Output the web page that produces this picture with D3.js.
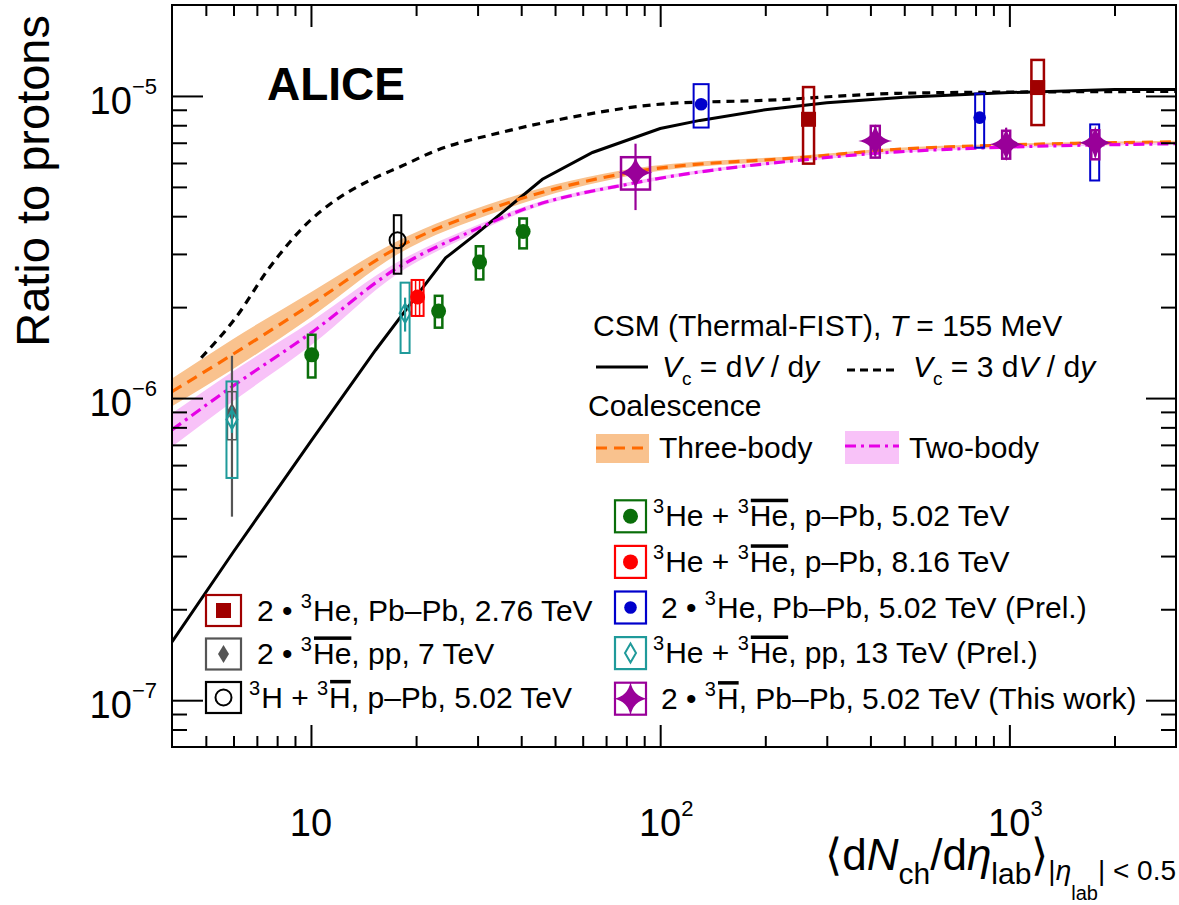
<!DOCTYPE html>
<html>
<head>
<meta charset="utf-8">
<script src="https://cdn.jsdelivr.net/npm/d3@7"></script>
<style>
  body { margin: 0; background: #fff; }
  text { font-family: "Liberation Sans", Arial, Helvetica, sans-serif; fill: #000; white-space: pre; }
</style>
</head>
<body>
<svg id="chart" width="1179" height="905"></svg>
<script>
// ---------- data ----------
var xMajorTicks = [10, 100, 1000];
var xMajorLabels = ["10", "10^2", "10^3"];
var yMajorTicks = [1e-7, 1e-6, 1e-5];
var yMajorLabels = ["10^−7", "10^−6", "10^−5"];

// CSM (Thermal-FIST), Vc = dV/dy
var csmX = [4, 6, 10, 15.3, 20, 24.3, 30, 46, 64, 100, 130, 200, 300, 500, 1000, 2000, 3000];
var csmY = [1.56e-7, 3.1e-7, 7.2e-7, 1.44e-6, 2.17e-6, 2.91e-6, 3.52e-6, 5.3e-6, 6.5e-6, 7.8e-6, 8.3e-6, 9.0e-6, 9.5e-6, 9.9e-6, 1.026e-5, 1.05e-5, 1.05e-5];
// CSM, Vc = 3 dV/dy
var csm3X = [4.85, 6.1, 7.6, 9.9, 11.7, 14.6, 18.2, 22.7, 35, 55, 106, 200, 480, 1000, 3000];
var csm3Y = [1.36e-6, 1.85e-6, 2.7e-6, 3.85e-6, 4.5e-6, 5.23e-6, 5.86e-6, 6.58e-6, 7.57e-6, 8.48e-6, 9.44e-6, 9.67e-6, 1.02e-5, 1.03e-5, 1.035e-5];

// Coalescence, three-body
var threeX = [4, 5.94, 10.05, 17.7, 35, 85, 266, 480, 940, 3000];
var threeY = [1.05e-6, 1.39e-6, 2.05e-6, 3.15e-6, 4.35e-6, 5.62e-6, 6.28e-6, 6.66e-6, 6.87e-6, 7.05e-6];
var threeLo = [9.4e-7, 1.24e-6, 1.86e-6, 2.99e-6, 4.18e-6, 5.49e-6, 6.19e-6, 6.59e-6, 6.81e-6, 6.99e-6];
var threeHi = [1.16e-6, 1.56e-6, 2.25e-6, 3.31e-6, 4.52e-6, 5.76e-6, 6.37e-6, 6.74e-6, 6.94e-6, 7.11e-6];
// Coalescence, two-body
var twoX = [4, 5.94, 10.05, 17.7, 29.5, 40.5, 85, 266, 480, 3000];
var twoY = [7.85e-7, 1.09e-6, 1.65e-6, 2.7e-6, 3.61e-6, 4.21e-6, 5.16e-6, 6.17e-6, 6.53e-6, 6.95e-6];
var twoLo = [6.9e-7, 9.7e-7, 1.5e-6, 2.58e-6, 3.51e-6, 4.13e-6, 5.09e-6, 6.11e-6, 6.48e-6, 6.91e-6];
var twoHi = [8.9e-7, 1.22e-6, 1.8e-6, 2.82e-6, 3.71e-6, 4.29e-6, 5.24e-6, 6.24e-6, 6.59e-6, 6.99e-6];

// 2 x 3He, Pb-Pb 2.76 TeV
var pbpb276X = [266, 1205];
var pbpb276Y = [8.37e-6, 1.066e-5];
var pbpb276SysLo = [5.97e-6, 8.01e-6];
var pbpb276SysHi = [1.07e-5, 1.316e-5];
// 2 x anti-3He, pp 7 TeV
var pp7X = [5.94];
var pp7Y = [9.0e-7];
var pp7StatLo = [4.05e-7];
var pp7StatHi = [1.38e-6];
var pp7SysLo = [7.28e-7];
var pp7SysHi = [1.05e-6];
// 3H + anti-3H, p-Pb 5.02 TeV
var h3X = [17.7];
var h3Y = [3.33e-6];
var h3SysLo = [2.58e-6];
var h3SysHi = [4.03e-6];
// 3He + anti-3He, p-Pb 5.02 TeV
var ppb502X = [10.05, 23.2, 30.4, 40.5];
var ppb502Y = [1.39e-6, 1.94e-6, 2.82e-6, 3.56e-6];
var ppb502SysLo = [1.17e-6, 1.71e-6, 2.47e-6, 3.13e-6];
var ppb502SysHi = [1.62e-6, 2.18e-6, 3.18e-6, 3.93e-6];
// 3He + anti-3He, p-Pb 8.16 TeV
var ppb816X = [20.2];
var ppb816Y = [2.16e-6];
var ppb816SysLo = [1.87e-6];
var ppb816SysHi = [2.46e-6];
// 2 x 3He, Pb-Pb 5.02 TeV (Prel.)
var pbpb502X = [131, 822, 1755];
var pbpb502Y = [9.39e-6, 8.48e-6, 6.9e-6];
var pbpb502SysLo = [7.86e-6, 6.74e-6, 5.25e-6];
var pbpb502SysHi = [1.094e-5, 1.018e-5, 8.05e-6];
// 3He + anti-3He, pp 13 TeV (Prel.)
var pp13X = [5.94, 18.6];
var pp13Y = [8.5e-7, 1.91e-6];
var pp13StatLo = [7.67e-7, 1.66e-6];
var pp13StatHi = [9.37e-7, 2.15e-6];
var pp13SysLo = [5.44e-7, 1.41e-6];
var pp13SysHi = [1.135e-6, 2.41e-6];
// 2 x anti-3H, Pb-Pb 5.02 TeV (this work)
var h3barX = [85, 413, 979, 1762];
var h3barY = [5.57e-6, 7.1e-6, 6.92e-6, 7.0e-6];
var h3barStatLo = [4.19e-6, 6.3e-6, 6.18e-6, 6.3e-6];
var h3barStatHi = [6.95e-6, 7.9e-6, 7.85e-6, 7.75e-6];
var h3barSysLo = [4.9e-6, 6.25e-6, 6.2e-6, 6.17e-6];
var h3barSysHi = [6.27e-6, 7.96e-6, 7.67e-6, 7.7e-6];

// ---------- setup ----------
var L = 172, R = 1176, T = 5, B = 747;
var svg = d3.select("#chart");
var x = d3.scaleLog().domain([4, 3000]).range([L, R]);
var y = d3.scaleLog().domain([7e-8, 2e-5]).range([B, T]);

var FONT = 30;

// rich text: segments laid out one after another
function rich(g, x0, y0, segs, base, anchor) {
	var grp = g.append("g");
	var cx = 0;
	segs.forEach(function(s) {
		var size = s.size || base;
		var t = grp.append("text")
			.attr("x", cx)
			.attr("y", s.dy || 0)
			.attr("xml:space", "preserve")
			.style("font-size", size + "px")
			.style("font-style", s.it ? "italic" : "normal")
			.text(s.t);
		var w = t.node().getComputedTextLength();
		if (s.bar) {
			grp.append("rect")
				.attr("x", cx + 1).attr("width", w - 1)
				.attr("y", (s.dy || 0) - size * 0.72 - 6).attr("height", 3.5)
				.style("fill", "#000");
		}
		cx += w + (s.gap || 0);
	});
	var sx = x0;
	if (anchor == "end") sx = x0 - cx;
	if (anchor == "middle") sx = x0 - cx / 2;
	grp.attr("transform", "translate(" + sx + "," + y0 + ")");
	return grp;
}

function powLabel(str, size) {
	var p = str.split("^");
	var segs = [{t: p[0]}];
	if (p[1]) segs.push({t: p[1], size: size * 0.58, dy: -size * 0.53});
	return segs;
}

// ---------- clip ----------
svg.append("clipPath").attr("id", "clip")
	.append("rect").attr("x", L).attr("y", T).attr("width", R - L).attr("height", B - T);
var plot = svg.append("g").attr("clip-path", "url(#clip)");

function pts(xs, ys) { return xs.map(function(v, i) { return [v, ys[i]]; }); }

var lineLin = d3.line().x(function(d) { return x(d[0]); }).y(function(d) { return y(d[1]); });
var lineSmooth = d3.line().x(function(d) { return x(d[0]); }).y(function(d) { return y(d[1]); }).curve(d3.curveMonotoneX);
var band = d3.area().x(function(d) { return x(d[0]); }).y0(function(d) { return y(d[1]); }).y1(function(d) { return y(d[2]); }).curve(d3.curveMonotoneX);

var ORANGE = "#ff6a00", ORANGE_BAND = "#f9c28e";
var MAGENTA = "#e600e6", MAGENTA_BAND = "#f8c2f8";

plot.append("path")
	.datum(threeX.map(function(v, i) { return [v, threeLo[i], threeHi[i]]; }))
	.attr("d", band).style("fill", ORANGE_BAND);
plot.append("path")
	.datum(twoX.map(function(v, i) { return [v, twoLo[i], twoHi[i]]; }))
	.attr("d", band).style("fill", MAGENTA_BAND);

plot.append("path").datum(pts(csmX, csmY)).attr("d", lineLin)
	.style("fill", "none").style("stroke", "#000").style("stroke-width", 3);
plot.append("path").datum(pts(csm3X, csm3Y)).attr("d", lineSmooth)
	.style("fill", "none").style("stroke", "#000").style("stroke-width", 3.2).style("stroke-dasharray", "8,6");
plot.append("path").datum(pts(threeX, threeY)).attr("d", lineSmooth)
	.style("fill", "none").style("stroke", ORANGE).style("stroke-width", 3.2).style("stroke-dasharray", "11,7");
plot.append("path").datum(pts(twoX, twoY)).attr("d", lineSmooth)
	.style("fill", "none").style("stroke", MAGENTA).style("stroke-width", 3.2).style("stroke-dasharray", "11,5,3,5");

// ---------- markers ----------
function starPath(r, k) {
	return "M0," + (-r) + " Q" + k + "," + (-k) + " " + r + ",0 Q" + k + "," + k + " 0," + r +
		" Q" + (-k) + "," + k + " " + (-r) + ",0 Q" + (-k) + "," + (-k) + " 0," + (-r) + "Z";
}
function diamondPath(w, h) {
	return "M0," + (-h) + " L" + w + ",0 L0," + h + " L" + (-w) + ",0Z";
}
function drawMarker(g, m, cx, cy, color) {
	if (m == "circle") g.append("circle").attr("cx", cx).attr("cy", cy).attr("r", 7.5).style("fill", color);
	if (m == "smallcircle") g.append("circle").attr("cx", cx).attr("cy", cy).attr("r", 6.3).style("fill", color);
	if (m == "opencircle") g.append("circle").attr("cx", cx).attr("cy", cy).attr("r", 8).style("fill", "none").style("stroke", color).style("stroke-width", 2);
	if (m == "square") g.append("rect").attr("x", cx - 7.5).attr("y", cy - 7.5).attr("width", 15).attr("height", 15).style("fill", color);
	if (m == "diamond") g.append("path").attr("d", diamondPath(5.5, 9)).attr("transform", "translate(" + cx + "," + cy + ")").style("fill", color);
	if (m == "opendiamond") g.append("path").attr("d", diamondPath(5.5, 9.5)).attr("transform", "translate(" + cx + "," + cy + ")").style("fill", "none").style("stroke", color).style("stroke-width", 2);
	if (m == "star") g.append("path").attr("d", starPath(17, 2.5)).attr("transform", "translate(" + cx + "," + cy + ")").style("fill", color);
}

var series = [
	{x: pp7X, y: pp7Y, statLo: pp7StatLo, statHi: pp7StatHi, sysLo: pp7SysLo, sysHi: pp7SysHi, color: "#555555", boxW: [9], sw: 1.5, marker: "diamond"},
	{x: pp13X, y: pp13Y, statLo: pp13StatLo, statHi: pp13StatHi, sysLo: pp13SysLo, sysHi: pp13SysHi, color: "#1f9a9a", boxW: [11, 9], sw: 2, marker: "opendiamond"},
	{x: h3X, y: h3Y, sysLo: h3SysLo, sysHi: h3SysHi, color: "#000000", boxW: [7.5], sw: 2, marker: "opencircle"},
	{x: ppb502X, y: ppb502Y, sysLo: ppb502SysLo, sysHi: ppb502SysHi, color: "#0a6e0a", boxW: [7.5, 7.5, 7.5, 7.5], sw: 2.5, marker: "circle"},
	{x: ppb816X, y: ppb816Y, sysLo: ppb816SysLo, sysHi: ppb816SysHi, color: "#ff0000", boxW: [12], sw: 2, marker: "circle", inner: 4},
	{x: pbpb502X, y: pbpb502Y, sysLo: pbpb502SysLo, sysHi: pbpb502SysHi, color: "#0000cc", boxW: [15, 9, 9], sw: 2, marker: "smallcircle"},
	{x: pbpb276X, y: pbpb276Y, sysLo: pbpb276SysLo, sysHi: pbpb276SysHi, color: "#a00000", boxW: [11, 12.5], sw: 2.5, marker: "square"},
	{x: h3barX, y: h3barY, statLo: h3barStatLo, statHi: h3barStatHi, sysLo: h3barSysLo, sysHi: h3barSysHi, color: "#990099", boxW: [29, 9, 8, 8], sw: 2.5, marker: "star"}
];

var marks = svg.append("g").attr("clip-path", "url(#clip)");
series.forEach(function(s) {
	var g = marks.append("g");
	s.x.forEach(function(xv, i) {
		var cx = x(xv), cy = y(s.y[i]);
		var w = s.boxW[i];
		g.append("rect")
			.attr("x", cx - w / 2).attr("width", w)
			.attr("y", y(s.sysHi[i])).attr("height", y(s.sysLo[i]) - y(s.sysHi[i]))
			.style("fill", "none").style("stroke", s.color).style("stroke-width", s.sw);
		if (s.inner) {
			g.append("rect")
				.attr("x", cx - s.inner / 2).attr("width", s.inner)
				.attr("y", y(s.sysHi[i])).attr("height", y(s.sysLo[i]) - y(s.sysHi[i]))
				.style("fill", "none").style("stroke", s.color).style("stroke-width", 1.5);
		}
		if (s.statLo) {
			g.append("line")
				.attr("x1", cx).attr("x2", cx)
				.attr("y1", y(s.statLo[i])).attr("y2", y(s.statHi[i]))
				.style("stroke", s.color).style("stroke-width", 2.2);
		}
		drawMarker(g, s.marker, cx, cy, s.color);
	});
});

// ---------- axes ----------
function minors(lo, hi) {
	var out = [];
	for (var e = Math.floor(Math.log10(lo)); e <= Math.ceil(Math.log10(hi)); e++) {
		for (var m = 2; m <= 9; m++) {
			var v = m * Math.pow(10, e);
			if (v > lo * 1.0001 && v < hi * 0.9999) out.push(v);
		}
	}
	return out;
}
var xMinor = minors(4, 3000);
var yMinor = minors(7e-8, 2e-5);

function styleAxis(g) {
	g.select(".domain").remove();
	g.selectAll(".tick line").style("stroke", "#000").style("stroke-width", 2);
	g.selectAll(".tick text").remove();
}
svg.append("g").attr("transform", "translate(0," + B + ")")
	.call(d3.axisBottom(x).tickValues(xMajorTicks).tickSize(-22)).call(styleAxis);
svg.append("g").attr("transform", "translate(0," + B + ")")
	.call(d3.axisBottom(x).tickValues(xMinor).tickSize(-11)).call(styleAxis);
svg.append("g").attr("transform", "translate(0," + T + ")")
	.call(d3.axisTop(x).tickValues(xMajorTicks).tickSize(-22)).call(styleAxis);
svg.append("g").attr("transform", "translate(0," + T + ")")
	.call(d3.axisTop(x).tickValues(xMinor).tickSize(-11)).call(styleAxis);
svg.append("g").attr("transform", "translate(" + L + ",0)")
	.call(d3.axisLeft(y).tickValues(yMajorTicks).tickSize(-31)).call(styleAxis);
svg.append("g").attr("transform", "translate(" + L + ",0)")
	.call(d3.axisLeft(y).tickValues(yMinor).tickSize(-15)).call(styleAxis);
svg.append("g").attr("transform", "translate(" + R + ",0)")
	.call(d3.axisRight(y).tickValues(yMajorTicks).tickSize(-30)).call(styleAxis);
svg.append("g").attr("transform", "translate(" + R + ",0)")
	.call(d3.axisRight(y).tickValues(yMinor).tickSize(-15)).call(styleAxis);

svg.append("rect").attr("x", L).attr("y", T).attr("width", R - L).attr("height", B - T)
	.style("fill", "none").style("stroke", "#000").style("stroke-width", 2);

// tick labels
xMajorTicks.forEach(function(v, i) {
	rich(svg, x(v) + (i > 0 ? 6 : 0), 836, powLabel(xMajorLabels[i], 38), 38, "middle");
});
yMajorTicks.forEach(function(v, i) {
	rich(svg, 157, y(v) + 18, powLabel(yMajorLabels[i], 38), 38, "end");
});

// axis titles
svg.append("text")
	.attr("transform", "translate(49,15) rotate(-90)")
	.attr("text-anchor", "end")
	.style("font-size", "47px")
	.text("Ratio to protons");

rich(svg, 1176, 870, [
	{t: "⟨d"}, {t: "N", it: true},
	{t: "ch", size: 30, dy: 14},
	{t: "/d"}, {t: "η", it: true},
	{t: "lab", size: 30, dy: 14},
	{t: "⟩"},
	{t: "|", size: 28, dy: 10}, {t: "η", it: true, size: 28, dy: 10},
	{t: "lab", size: 20, dy: 30},
	{t: "| < 0.5", size: 28, dy: 10}
], 44, "end");

// ALICE
svg.append("text").attr("x", 267).attr("y", 100)
	.style("font-size", "46px").style("font-weight", "bold").text("ALICE");

// ---------- model legend ----------
rich(svg, 593, 336, [{t: "CSM (Thermal-FIST), "}, {t: "T", it: true}, {t: " = 155 MeV"}], FONT, "start");

svg.append("line").attr("x1", 596).attr("x2", 648).attr("y1", 367).attr("y2", 367)
	.style("stroke", "#000").style("stroke-width", 3);
rich(svg, 662, 377, [{t: "V", it: true}, {t: "c", size: 19, dy: 8}, {t: " = d"}, {t: "V", it: true}, {t: " / d"}, {t: "y", it: true}], FONT, "start");
svg.append("line").attr("x1", 847).attr("x2", 896).attr("y1", 370).attr("y2", 370)
	.style("stroke", "#000").style("stroke-width", 3.2).style("stroke-dasharray", "8,5");
rich(svg, 913, 377, [{t: "V", it: true}, {t: "c", size: 19, dy: 8}, {t: " = 3 d"}, {t: "V", it: true}, {t: " / d"}, {t: "y", it: true}], FONT, "start");

svg.append("text").attr("x", 588).attr("y", 416).style("font-size", FONT + "px").text("Coalescence");

svg.append("rect").attr("x", 596).attr("y", 434).attr("width", 53).attr("height", 29).style("fill", ORANGE_BAND);
svg.append("line").attr("x1", 596).attr("x2", 649).attr("y1", 448).attr("y2", 448)
	.style("stroke", ORANGE).style("stroke-width", 3.2).style("stroke-dasharray", "11,7");
svg.append("text").attr("x", 659).attr("y", 458).style("font-size", FONT + "px").text("Three-body");

svg.append("rect").attr("x", 845).attr("y", 431).attr("width", 54).attr("height", 33).style("fill", MAGENTA_BAND);
svg.append("line").attr("x1", 845).attr("x2", 899).attr("y1", 446).attr("y2", 446)
	.style("stroke", MAGENTA).style("stroke-width", 3.2).style("stroke-dasharray", "11,5,3,5");
svg.append("text").attr("x", 909).attr("y", 458).style("font-size", FONT + "px").text("Two-body");

// ---------- data legend ----------
function sup(t) { return {t: t, size: 20, dy: -13, gap: 1}; }

var legendLeft = [
	{color: "#a00000", marker: "square", text: [{t: "2 • "}, sup("3"), {t: "He, Pb–Pb, 2.76 TeV"}]},
	{color: "#555555", marker: "diamond", text: [{t: "2 • "}, sup("3"), {t: "He", bar: true}, {t: ", pp, 7 TeV"}]},
	{color: "#000000", marker: "opencircle", text: [sup("3"), {t: "H + "}, sup("3"), {t: "H", bar: true}, {t: ", p–Pb, 5.02 TeV"}]}
];
var legendRight = [
	{color: "#0a6e0a", marker: "circle", text: [sup("3"), {t: "He + "}, sup("3"), {t: "He", bar: true}, {t: ", p–Pb, 5.02 TeV"}]},
	{color: "#ff0000", marker: "circle", text: [sup("3"), {t: "He + "}, sup("3"), {t: "He", bar: true}, {t: ", p–Pb, 8.16 TeV"}]},
	{color: "#0000cc", marker: "smallcircle", text: [{t: "2 • "}, sup("3"), {t: "He, Pb–Pb, 5.02 TeV (Prel.)"}]},
	{color: "#1f9a9a", marker: "opendiamond", text: [sup("3"), {t: "He + "}, sup("3"), {t: "He", bar: true}, {t: ", pp, 13 TeV (Prel.)"}]},
	{color: "#990099", marker: "star", text: [{t: "2 • "}, sup("3"), {t: "H", bar: true}, {t: ", Pb–Pb, 5.02 TeV (This work)"}]}
];

function drawLegend(items, bx, bw, bh, y0, dy, tx) {
	items.forEach(function(it, i) {
		var cy = y0 + i * dy;
		var g = svg.append("g");
		g.append("rect").attr("x", bx).attr("y", cy - bh / 2).attr("width", bw).attr("height", bh)
			.style("fill", "#fff").style("stroke", it.color).style("stroke-width", 2.2);
		drawMarker(g, it.marker, bx + bw / 2, cy, it.color);
		var x0 = tx;
		if (it.text[0].dy) x0 = tx - 8;
		rich(svg, x0, cy + 10, it.text, FONT, "start");
	});
}
drawLegend(legendLeft, 206, 35, 31, 610.5, 43.5, 257);
drawLegend(legendRight, 615, 31, 32, 516.3, 45.6, 661);
</script>
</body>
</html>
